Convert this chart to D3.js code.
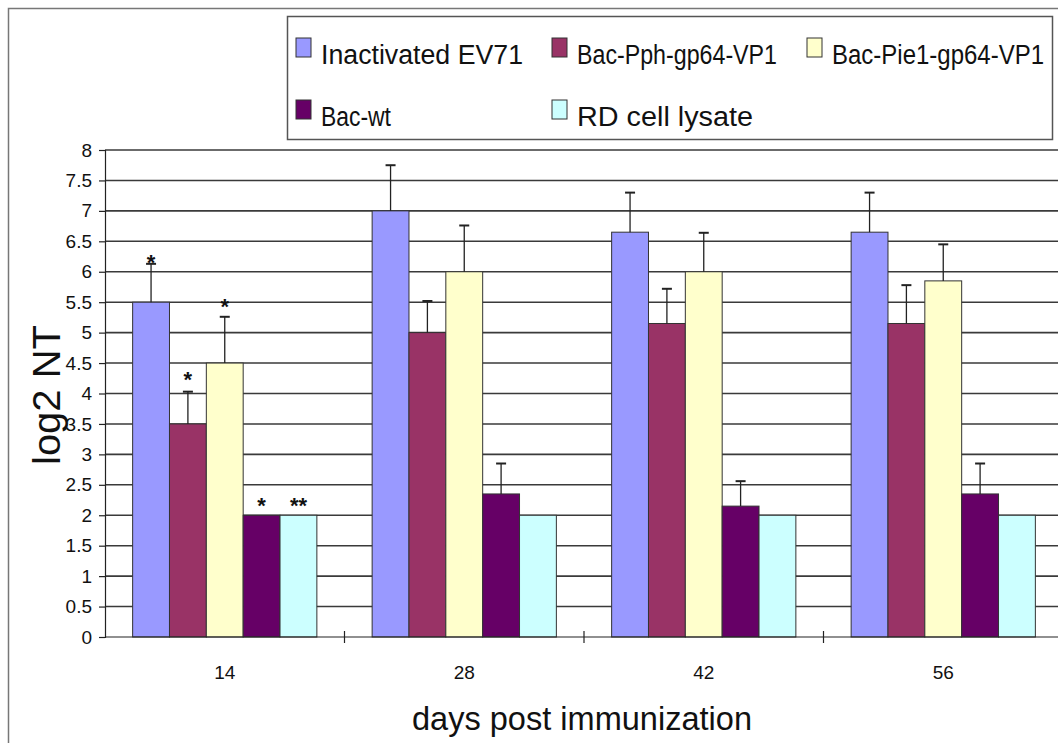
<!DOCTYPE html>
<html>
<head>
<meta charset="utf-8">
<script src="https://cdn.jsdelivr.net/npm/d3@7"></script>
<style>
  html, body { margin: 0; padding: 0; background: #fff; }
  svg { display: block; font-family: "Liberation Sans", Arial, sans-serif; }
</style>
</head>
<body>
<svg id="chart" width="1058" height="743"></svg>
<script>
// ---- data ----
const days = ["14", "28", "42", "56"];
const seriesNames = ["Inactivated EV71", "Bac-Pph-gp64-VP1", "Bac-Pie1-gp64-VP1", "Bac-wt", "RD cell lysate"];
const seriesColors = ["#9999FF", "#993366", "#FFFFCC", "#660066", "#CCFFFF"];
const inactivatedEV71 = [5.5, 7.0, 6.65, 6.65];
const bacPph = [3.5, 5.0, 5.15, 5.15];
const bacPie1 = [4.5, 6.0, 6.0, 5.85];
const bacWt = [2.0, 2.35, 2.15, 2.35];
const rdLysate = [2.0, 2.0, 2.0, 2.0];
const errInactivated = [0.63, 0.75, 0.65, 0.65];
const errPph = [0.53, 0.52, 0.57, 0.63];
const errPie1 = [0.76, 0.76, 0.64, 0.6];
const errWt = [0, 0.5, 0.41, 0.5];
const errRd = [0, 0, 0, 0];
const yTicks = [0, 0.5, 1, 1.5, 2, 2.5, 3, 3.5, 4, 4.5, 5, 5.5, 6, 6.5, 7, 7.5, 8];
// significance marks at day 14 (label, level in log2 NT units)
const starLabels = ["*", "*", "*", "*", "**"];
const starLevels = [6.23, 4.31, 5.5, 2.24, 2.24];

const values = [inactivatedEV71, bacPph, bacPie1, bacWt, rdLysate];
const errors = [errInactivated, errPph, errPie1, errWt, errRd];

// ---- layout ----
const svg = d3.select("#chart");
const plotLeft = 105, plotTop = 150, plotBottom = 637, groupW = 239.5;
const plotRight = plotLeft + groupW * days.length;

const x0 = d3.scaleBand().domain(days).range([plotLeft, plotRight]).paddingInner(0).paddingOuter(0);
const x1 = d3.scaleBand().domain(d3.range(seriesNames.length)).range([0, x0.bandwidth()])
  .paddingInner(0).paddingOuter(0.75);
const y = d3.scaleLinear().domain([0, 8]).range([plotBottom, plotTop]);

// outer frame
svg.append("path")
  .attr("d", `M8.5,743 L8.5,8.5 L1058,8.5`)
  .attr("fill", "none").attr("stroke", "#777").attr("stroke-width", 1.5);

// gridlines
svg.append("g").selectAll("line").data(yTicks.filter(t => t > 0)).join("line")
  .attr("x1", plotLeft).attr("x2", 1058)
  .attr("y1", d => y(d)).attr("y2", d => y(d))
  .attr("stroke", "#3a3a3a").attr("stroke-width", 1.6);

// y axis
const yAxis = d3.axisLeft(y).tickValues(yTicks).tickSize(6).tickPadding(7)
  .tickFormat(d => String(d));
const yg = svg.append("g").attr("transform", `translate(${plotLeft},0)`).call(yAxis)
  .attr("font-size", null).attr("font-family", null);
yg.select(".domain").attr("stroke", "#222").attr("stroke-width", 1.2);
yg.selectAll(".tick line").attr("stroke", "#222").attr("stroke-width", 1.2);
yg.selectAll(".tick text").attr("font-size", 19).attr("fill", "#111");

// bars
const groups = svg.append("g").selectAll("g").data(days).join("g")
  .attr("transform", d => `translate(${x0(d)},0)`);

groups.selectAll("rect").data((d, i) => values.map((s, k) => ({k, v: s[i], e: errors[k][i]})))
  .join("rect")
  .attr("x", d => x1(d.k)).attr("width", x1.bandwidth())
  .attr("y", d => y(d.v)).attr("height", d => y(0) - y(d.v))
  .attr("fill", d => seriesColors[d.k])
  .attr("stroke", "#333").attr("stroke-width", 1);

// error bars
const eb = groups.selectAll("g.err").data((d, i) => values.map((s, k) => ({k, v: s[i], e: errors[k][i]})).filter(d => d.e > 0))
  .join("g").attr("class", "err");
eb.append("line")
  .attr("x1", d => x1(d.k) + x1.bandwidth() / 2).attr("x2", d => x1(d.k) + x1.bandwidth() / 2)
  .attr("y1", d => y(d.v)).attr("y2", d => y(d.v + d.e))
  .attr("stroke", "#222").attr("stroke-width", 1.3);
eb.append("line")
  .attr("x1", d => x1(d.k) + x1.bandwidth() / 2 - 5).attr("x2", d => x1(d.k) + x1.bandwidth() / 2 + 5)
  .attr("y1", d => y(d.v + d.e)).attr("y2", d => y(d.v + d.e))
  .attr("stroke", "#222").attr("stroke-width", 2);

// stars (day 14)
svg.append("g").selectAll("text").data(starLabels).join("text")
  .attr("x", (d, k) => x0(days[0]) + x1(k) + x1.bandwidth() / 2)
  .attr("y", (d, k) => y(starLevels[k]) + 12)
  .attr("text-anchor", "middle").attr("font-size", 22).attr("font-weight", "bold")
  .attr("fill", "#111").text(d => d);

// x axis
svg.append("line").attr("x1", plotLeft).attr("x2", 1058)
  .attr("y1", plotBottom).attr("y2", plotBottom)
  .attr("stroke", "#222").attr("stroke-width", 1.2);
svg.append("g").selectAll("line").data(days.slice(1)).join("line")
  .attr("x1", d => x0(d)).attr("x2", d => x0(d))
  .attr("y1", plotBottom - 6).attr("y2", plotBottom + 6)
  .attr("stroke", "#222").attr("stroke-width", 1.2);
svg.append("g").selectAll("text").data(days).join("text")
  .attr("x", d => x0(d) + x0.bandwidth() / 2).attr("y", 679)
  .attr("text-anchor", "middle").attr("font-size", 19).attr("fill", "#111")
  .text(d => d);

// axis titles
svg.append("text").attr("x", (plotLeft + plotRight) / 2 - 2).attr("y", 730)
  .attr("text-anchor", "middle").attr("font-size", 34).attr("fill", "#111")
  .attr("textLength", 340).attr("lengthAdjust", "spacingAndGlyphs")
  .text("days post immunization");
svg.append("text").attr("transform", `translate(60,395) rotate(-90)`)
  .attr("text-anchor", "middle").attr("font-size", 38).attr("fill", "#111")
  .attr("textLength", 140).attr("lengthAdjust", "spacingAndGlyphs")
  .text("log2 NT");

// legend
svg.append("rect").attr("x", 287.5).attr("y", 16.5).attr("width", 765).attr("height", 123)
  .attr("fill", "#fff").attr("stroke", "#555").attr("stroke-width", 1.5);
const legendCols = [296, 552, 807];
const legendRows = [[0, 1, 2], [3, 4]];
const legendTextWidths = [202, 200, 212, 70, 176];
const legendItems = [];
legendRows.forEach((row, r) => row.forEach((k, c) => legendItems.push({k, r, c})));
const lg = svg.append("g").selectAll("g").data(legendItems).join("g")
  .attr("transform", d => `translate(${legendCols[d.c]},${d.r === 0 ? 38 : 100})`);
lg.append("rect").attr("width", 15).attr("height", 19)
  .attr("fill", d => seriesColors[d.k]).attr("stroke", "#333").attr("stroke-width", 1);
lg.append("text").attr("x", 25).attr("y", 26).attr("font-size", 27).attr("fill", "#111")
  .attr("textLength", d => legendTextWidths[d.k]).attr("lengthAdjust", "spacingAndGlyphs")
  .text(d => seriesNames[d.k]);
</script>
</body>
</html>
